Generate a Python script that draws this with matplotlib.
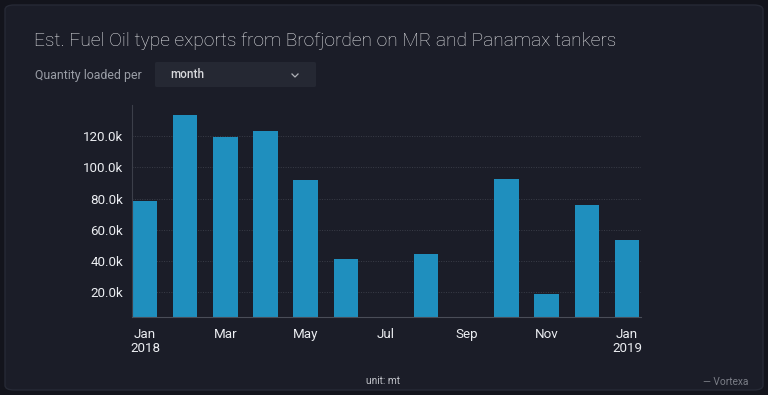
import matplotlib
matplotlib.use("Agg")
import matplotlib.pyplot as plt
from matplotlib.patches import FancyBboxPatch
from matplotlib.lines import Line2D
from matplotlib.ticker import FuncFormatter

months = ["Jan\n2018", "Feb", "Mar", "Apr", "May", "Jun", "Jul", "Aug",
          "Sep", "Oct", "Nov", "Dec", "Jan\n2019"]
exports = [78300, 133900, 119400, 123100, 92200, 41100, 0, 44300,
           0, 92400, 19100, 76200, 53200]
tick_idx = [0, 2, 4, 6, 8, 10, 12]
tick_labels = ["Jan\n2018", "Mar", "May", "Jul", "Sep", "Nov", "Jan\n2019"]
y_ticks = [20000, 40000, 60000, 80000, 100000, 120000]

plt.rcParams['font.family'] = ['Roboto', 'DejaVu Sans']

W, H = 768, 395
fig = plt.figure(figsize=(W / 100, H / 100), dpi=100)
fig.patch.set_facecolor('#13141c')

# card
card = FancyBboxPatch((5 / W, 5 / H), 758 / W, 385 / H,
                      boxstyle="round,pad=0,rounding_size=0.012",
                      transform=fig.transFigure, facecolor='#1b1d28',
                      edgecolor='#262935', linewidth=1, zorder=-5)
fig.patches.append(card)

# dropdown box
dd = FancyBboxPatch((155 / W, 1 - 87 / H), 161 / W, 25 / H,
                    boxstyle="round,pad=0,rounding_size=0.003",
                    transform=fig.transFigure, facecolor='#252833',
                    edgecolor='none', zorder=-4)
fig.patches.append(dd)

fig.text(34 / W, 1 - 41 / H, "Est. Fuel Oil type exports from Brofjorden on MR and Panamax tankers",
         color='#e6e7ea', fontsize=13.75, fontweight='light', va='center', ha='left')
fig.text(35 / W, 1 - 75 / H, "Quantity loaded per", color='#9a9da6',
         fontsize=8.9, va='center', ha='left')
fig.text(170 / W, 1 - 75 / H, "month", color='#d8d9dd',
         fontsize=8.4, fontweight='medium', va='center', ha='left')
# chevron
cx, cy = 295, 76
fig.add_artist(Line2D([(cx - 3) / W, cx / W, (cx + 3) / W],
                      [1 - (cy - 2) / H, 1 - (cy + 1) / H, 1 - (cy - 2) / H],
                      color='#b0b2b8', linewidth=0.9, transform=fig.transFigure))

fig.text(383 / W, 1 - 381 / H, "unit: mt", color='#c2c4ca',
         fontsize=7.3, va='center', ha='center')
fig.text(748 / W, 1 - 382 / H, "— Vortexa", color='#7b7e87',
         fontsize=7.3, va='center', ha='right')

ax = fig.add_axes([131.7 / W, 1 - 317.3 / H, (641 - 131.7) / W, (317.3 - 105) / H])
ax.set_facecolor('none')
ax.bar(range(len(months)), exports, width=0.61, color='#1f8fbe', zorder=2)
ax.set_xlim(-0.33, 12.35)
ax.set_ylim(4000, 140000)

ax.set_yticks(y_ticks)
ax.yaxis.set_major_formatter(FuncFormatter(lambda v, p: f"{v / 1000:.1f}k"))
ax.set_xticks(tick_idx)
ax.set_xticklabels(tick_labels)
ax.tick_params(axis='both', colors='#eceef2', labelsize=9.6, length=0)
ax.tick_params(axis='y', pad=6)
ax.tick_params(axis='x', pad=7.5)
for lbl in ax.get_xticklabels():
    lbl.set_linespacing(1.15)

ax.grid(axis='y', color='#3a3d48', linestyle=(0, (1, 1.5)), linewidth=0.7, zorder=0)
ax.grid(axis='x', visible=False)
for s in ['top', 'right']:
    ax.spines[s].set_visible(False)
ax.spines['left'].set_color('#3c3f4a')
ax.spines['bottom'].set_color('#4a4d58')
ax.spines['left'].set_linewidth(0.8)
ax.spines['bottom'].set_linewidth(0.8)

fig.savefig("out.png", dpi=100, facecolor=fig.get_facecolor())
